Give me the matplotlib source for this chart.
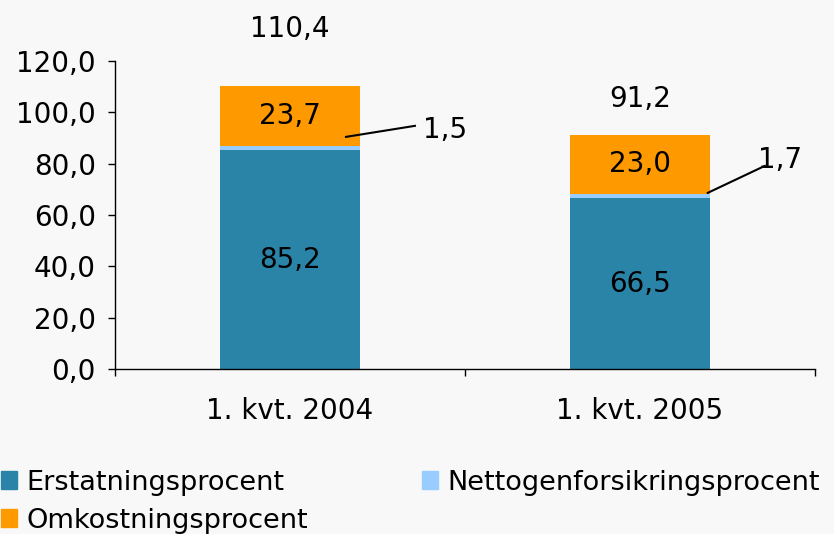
import matplotlib.pyplot as plt
from matplotlib.patches import Patch

categories = ['1. kvt. 2004', '1. kvt. 2005']
erstatning = [85.2, 66.5]
netto = [1.5, 1.7]
omkostning = [23.7, 23.0]
totals = [110.4, 91.2]
series_names = ['Erstatningsprocent', 'Nettogenforsikringsprocent', 'Omkostningsprocent']

c_erst = '#2A84A8'
c_netto = '#99CCFF'
c_omk = '#FF9900'
bg = '#F8F8F8'

plt.rcParams['font.family'] = 'DejaVu Sans'

fig = plt.figure(figsize=(8.34, 5.34), dpi=100, facecolor=bg)
ax = fig.add_axes([0.138, 0.309, 0.839, 0.577], facecolor=bg)

x = list(range(len(categories)))
w = 0.4
bottom2 = [a + b for a, b in zip(erstatning, netto)]
ax.bar(x, erstatning, w, color=c_erst)
ax.bar(x, netto, w, bottom=erstatning, color=c_netto)
ax.bar(x, omkostning, w, bottom=bottom2, color=c_omk)

fs = 20
for i in x:
    ax.text(i, erstatning[i] / 2, f'{erstatning[i]:.1f}'.replace('.', ','),
            ha='center', va='center', fontsize=fs)
    ax.text(i, bottom2[i] + omkostning[i] / 2, f'{omkostning[i]:.1f}'.replace('.', ','),
            ha='center', va='center', fontsize=fs)
    ax.text(i, totals[i] + 22 - 8 * i, f'{totals[i]:.1f}'.replace('.', ','),
            ha='center', va='center', fontsize=fs, clip_on=False)

# leader lines for the thin segment
leaders = [((0.16, 90.4), (0.357, 94.7), (0.443, 93.1)),
           ((1.194, 68.6), (1.357, 79.1), (1.40, 81.4))]
for i, (p0, p1, pt) in enumerate(leaders):
    ax.plot([p0[0], p1[0]], [p0[1], p1[1]], color='black', lw=1.5, clip_on=False)
    ax.text(pt[0], pt[1], f'{netto[i]:.1f}'.replace('.', ','),
            ha='center', va='center', fontsize=fs, clip_on=False)

ax.set_xlim(-0.5, 1.5)
ax.set_ylim(0, 120)
ax.set_yticks(range(0, 121, 20))
ax.set_yticklabels([f'{v:.1f}'.replace('.', ',') for v in range(0, 121, 20)])
ax.tick_params(axis='y', labelsize=fs, length=5, width=1, pad=9)
ax.set_xticks([-0.5, 0.5, 1.5])
ax.set_xticklabels([])
ax.set_xticks(x, minor=True)
ax.set_xticklabels(categories, minor=True)
ax.tick_params(axis='x', which='major', length=5, width=1)
ax.tick_params(axis='x', which='minor', length=0, labelsize=fs, pad=20)
for s in ['top', 'right']:
    ax.spines[s].set_visible(False)
for s in ['left', 'bottom']:
    ax.spines[s].set_linewidth(1)

handles = [Patch(color=c_erst), Patch(color=c_omk), Patch(color=c_netto)]
labels = [series_names[0], series_names[2], series_names[1]]
fig.legend(handles, labels, loc='lower left', bbox_to_anchor=(-0.012, -0.02), ncol=2,
           frameon=False, fontsize=19.5, handlelength=0.6, handleheight=0.65,
           handletextpad=0.35, columnspacing=4.2, labelspacing=0.45, borderaxespad=0)

fig.savefig('out.png', dpi=100, facecolor=bg)
